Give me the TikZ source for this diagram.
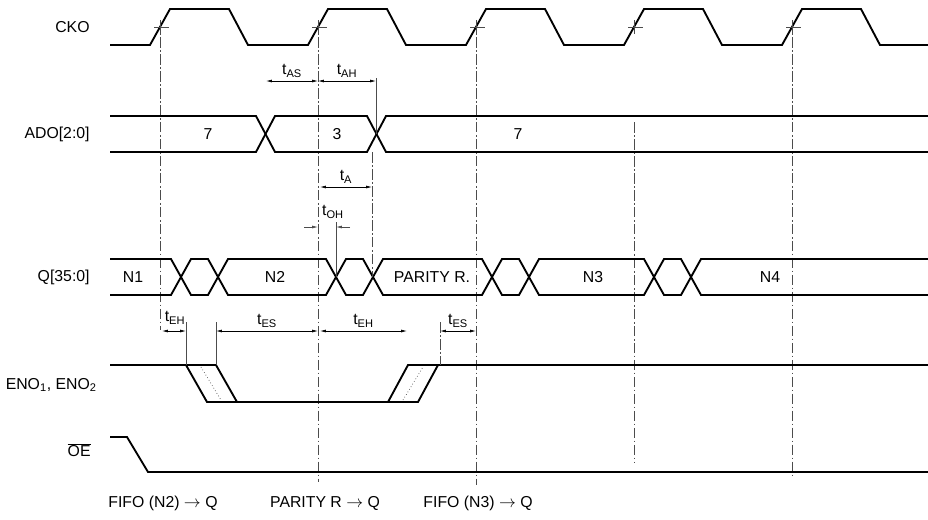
\documentclass[tikz,border=0pt]{standalone}
\usepackage{fontspec}
\setmainfont{Liberation Sans}
\usepackage{tikz}
\usetikzlibrary{arrows.meta,calc}

\tikzset{
    sig/.style={line width=1.6pt, line join=miter},
    guide/.style={line width=0.6pt, black!70, dash pattern=on 9pt off 2pt on 1.5pt off 2pt},
    fine/.style={line width=0.6pt, black!70},
    dim/.style={line width=0.6pt, {Latex[length=5pt,width=2.5pt]}-{Latex[length=5pt,width=2.5pt]}},
    lbl/.style={font=\fontsize{13.5}{15}\selectfont, anchor=east, inner sep=1pt},
    tlbl/.style={font=\fontsize{13.5}{15}\selectfont, inner sep=1pt}
}

\begin{document}
\begin{tikzpicture}[x=0.03cm, y=-0.03cm]
    \useasboundingbox (0,0) rectangle (928,519);

    % Signal names
    \node[lbl] (cko) at (91,27) {CKO};
    \node[lbl] (ado) at (91,134) {ADO[2:0]};
    \node[lbl] (q) at (91,277) {Q[35:0]};
    \node[lbl] (eno) at (98,385) {ENO\textsubscript{1}, ENO\textsubscript{2}};
    \node[lbl] (oe) at (92,450) {$\overline{\mbox{OE}}$};

    % Clock
    \draw[sig] (110,45) \foreach \s in {150,308,466,624,782} { -- (\s,45) -- (\s+20,9) -- (\s+79,9) -- (\s+98,45) } -- (928,45);
    \foreach \x in {160,318,476,634,792} {
        \draw[fine] (\x-6,27) -- (\x+9,27) (\x,20) -- (\x,34);
    }

    % Reference lines
    \draw[guide] (160,20) -- (160,330);
    \draw[guide] (318,20) -- (318,482);
    \draw[guide] (476,20) -- (476,485);
    \draw[guide] (634,122) -- (634,463);
    \draw[guide] (792,20) -- (792,475);

    % ADO bus
    \draw[sig] (110,116) -- (256,116) -- (275,152) -- (367,152) -- (386,116) -- (928,116);
    \draw[sig] (110,152) -- (256,152) -- (275,116) -- (367,116) -- (386,152) -- (928,152);
    \node[tlbl] (ado7a) at (208,134) {7};
    \node[tlbl] (ado3) at (337,134) {3};
    \node[tlbl] (ado7b) at (518,134) {7};

    % Q bus
    \draw[sig] (110,259) -- (171,259) -- (191,295) -- (208,295) -- (228,259) -- (326,259) -- (346,295) -- (363,295) -- (383,259)
        -- (482,259) -- (502,295) -- (519,295) -- (539,259) -- (644,259) -- (664,295) -- (681,295) -- (701,259) -- (928,259);
    \draw[sig] (110,295) -- (171,295) -- (191,259) -- (208,259) -- (228,295) -- (326,295) -- (346,259) -- (363,259) -- (383,295)
        -- (482,295) -- (502,259) -- (519,259) -- (539,295) -- (644,295) -- (664,259) -- (681,259) -- (701,295) -- (928,295);
    \node[tlbl] (n1) at (133,277) {N1};
    \node[tlbl] (n2) at (275,277) {N2};
    \node[tlbl] (par) at (432,277) {PARITY R.};
    \node[tlbl] (n3) at (593,277) {N3};
    \node[tlbl] (n4) at (770,277) {N4};

    % ENO
    \draw[sig] (110,365) -- (216,365) -- (237,402) -- (418,402) -- (438,365) -- (928,365);
    \draw[sig] (186,365) -- (207,402) -- (237,402);
    \draw[sig] (388,402) -- (408,365) -- (438,365);
    \draw[fine, dotted] (201,367) -- (221,400);
    \draw[fine, dotted] (403,400) -- (423,367);

    % OE
    \draw[sig] (110,437) -- (127,437) -- (148,472) -- (928,472);

    % Address timing
    \draw[dim] (266,81) -- node[tlbl, above=2pt] (tas) {t\textsubscript{AS}} (318,81);
    \draw[dim] (318,81) -- node[tlbl, above=2pt] (tah) {t\textsubscript{AH}} (376,81);
    \draw[fine] (376,78) -- (376,134);
    \draw[dim] (320,187) -- node[tlbl, above=2pt] (ta) {t\textsubscript{A}} (372,187);
    \draw[guide] (372,152) -- (372,277);
    \draw[fine, -{Latex[length=5pt,width=2.5pt]}] (304,227) -- (318,227);
    \draw[fine, -{Latex[length=5pt,width=2.5pt]}] (350,227) -- (336,227);
    \node[tlbl] (toh) at (333,212) {t\textsubscript{OH}};
    \draw[fine] (336,222) -- (336,277);

    % Enable timing
    \draw[dim] (162,331) -- (186,331);
    \node[tlbl] (teh1) at (175,318) {t\textsubscript{EH}};
    \draw[fine] (186,322) -- (186,365);
    \draw[dim] (216,331) -- node[tlbl, above=2pt] (tes1) {t\textsubscript{ES}} (318,331);
    \draw[fine] (216,322) -- (216,365);
    \draw[dim] (320,331) -- node[tlbl, above=2pt] (teh2) {t\textsubscript{EH}} (407,331);
    \draw[dim] (440,331) -- node[tlbl, above=2pt] (tes2) {t\textsubscript{ES}} (476,331);
    \draw[guide] (440,322) -- (440,365);

    % Transfers
    \node[tlbl] (fifo2) at (163,503) {FIFO (N2) $\rightarrow$ Q};
    \node[tlbl] (parq) at (325,503) {PARITY R $\rightarrow$ Q};
    \node[tlbl] (fifo3) at (478,503) {FIFO (N3) $\rightarrow$ Q};
\end{tikzpicture}
\end{document}
